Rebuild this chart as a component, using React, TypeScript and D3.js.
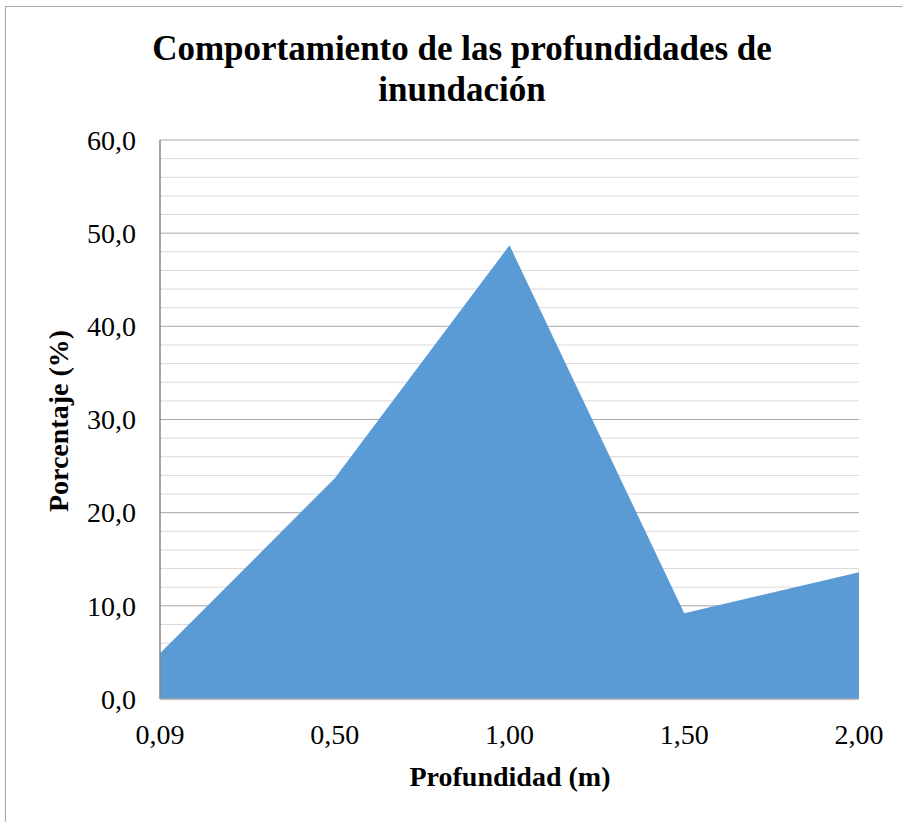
import React from "react";
import * as d3 from "d3";

const categories = ["0,09", "0,50", "1,00", "1,50", "2,00"];
const values = [4.9, 23.7, 48.7, 9.2, 13.6];
const yTicks = [0, 10, 20, 30, 40, 50, 60];
const titleLines = ["Comportamiento de las profundidades de", "inundación"];
const xTitle = "Profundidad (m)";
const yTitle = "Porcentaje (%)";

export default function App() {
  const W = 902, H = 822;
  const left = 160, right = 859, top = 140, bottom = 699;
  const x = d3.scalePoint<string>().domain(categories).range([left, right]);
  const y = d3.scaleLinear().domain([0, 60]).range([bottom, top]);
  const minor = d3.range(0, 61, 2).filter((v) => v % 10 !== 0);
  const area = d3
    .area<number>()
    .x((_, i) => x(categories[i]) as number)
    .y0(y(0))
    .y1((d) => y(d));
  const font = "'Liberation Serif', 'Times New Roman', serif";
  return (
    <div style={{ position: "fixed", left: 0, top: 0 }}>
      <svg width={W} height={H} style={{ display: "block", background: "#fff" }}>
        <rect x={5.5} y={6.5} width={W + 10} height={H + 10} fill="#fff" stroke="#a6a6a6" strokeWidth={1} />
        {minor.map((v) => (
          <line key={"m" + v} x1={left} x2={right} y1={y(v)} y2={y(v)} stroke="#d9d9d9" strokeWidth={1} />
        ))}
        {yTicks.filter((v) => v !== 0).map((v) => (
          <line key={"M" + v} x1={left} x2={right} y1={y(v)} y2={y(v)} stroke="#a6a6a6" strokeWidth={1} />
        ))}
        <path d={area(values) || ""} fill="#5B9BD5" />
        <line x1={left} x2={left} y1={top} y2={bottom} stroke="#868686" strokeWidth={1.5} />
        <line x1={left} x2={right} y1={bottom} y2={bottom} stroke="#a6a6a6" strokeWidth={1.5} />
        {yTicks.map((v) => (
          <text key={"yt" + v} x={136} y={y(v)} dy="0.35em" textAnchor="end" fontFamily={font} fontSize={28} fill="#000">
            {v.toFixed(1).replace(".", ",")}
          </text>
        ))}
        {categories.map((c) => (
          <text key={"xt" + c} x={x(c)} y={744} textAnchor="middle" fontFamily={font} fontSize={28} fill="#000">
            {c}
          </text>
        ))}
        {titleLines.map((t, i) => (
          <text key={"t" + i} x={462} y={60 + i * 41} textAnchor="middle" fontFamily={font} fontSize={35} fontWeight="bold" fill="#000">
            {t}
          </text>
        ))}
        <text x={510} y={786} textAnchor="middle" fontFamily={font} fontSize={28} fontWeight="bold" fill="#000">
          {xTitle}
        </text>
        <text transform={`translate(68,421) rotate(-90)`} textAnchor="middle" fontFamily={font} fontSize={28} fontWeight="bold" fill="#000">
          {yTitle}
        </text>
      </svg>
    </div>
  );
}
